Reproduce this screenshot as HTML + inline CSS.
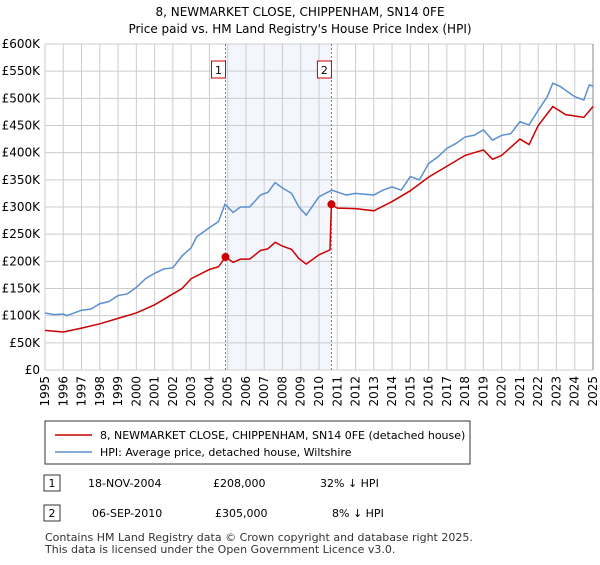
<!DOCTYPE html>
<html><head><meta charset="utf-8"><style>
body{margin:0;background:#fff;font-family:"Liberation Sans","DejaVu Sans",sans-serif;}
svg text{font-family:"DejaVu Sans","Liberation Sans",sans-serif;}
</style></head><body>
<svg id="c" width="600" height="560" xmlns="http://www.w3.org/2000/svg">
<text x="300" y="16" text-anchor="middle" font-size="12">8, NEWMARKET CLOSE, CHIPPENHAM, SN14 0FE</text>
<text x="300" y="33" text-anchor="middle" font-size="12">Price paid vs. HM Land Registry's House Price Index (HPI)</text>
<g id="grid"></g><g id="axes"></g><g id="series"></g>
<g>
<rect x="45" y="421" width="425" height="43" fill="#fff" stroke="#333"/>
<line x1="55" y1="435" x2="92" y2="435" stroke="#cc0000" stroke-width="1.5"/>
<text x="100" y="439" font-size="11">8, NEWMARKET CLOSE, CHIPPENHAM, SN14 0FE (detached house)</text>
<line x1="55" y1="452" x2="92" y2="452" stroke="#5b8fd0" stroke-width="1.5"/>
<text x="100" y="456" font-size="11">HPI: Average price, detached house, Wiltshire</text>
</g>
<g>
<rect x="44" y="475" width="16" height="16" fill="#fff" stroke="#333"/>
<text x="52" y="487" text-anchor="middle" font-size="11">1</text>
<text x="88" y="487" font-size="11">18-NOV-2004</text>
<text x="213" y="487" font-size="11">£208,000</text>
<text x="320" y="487" font-size="11">32% ↓ HPI</text>
<rect x="44" y="505" width="16" height="16" fill="#fff" stroke="#333"/>
<text x="52" y="517" text-anchor="middle" font-size="11">2</text>
<text x="92" y="517" font-size="11">06-SEP-2010</text>
<text x="215" y="517" font-size="11">£305,000</text>
<text x="332" y="517" font-size="11">8% ↓ HPI</text>
</g>
<text x="45" y="541" font-size="11" fill="#333">Contains HM Land Registry data © Crown copyright and database right 2025.</text>
<text x="45" y="553" font-size="11" fill="#333">This data is licensed under the Open Government Licence v3.0.</text>
</svg>
<script>
const yTicks=[0,50,100,150,200,250,300,350,400,450,500,550,600];
const yearLabels=[1995,1996,1997,1998,1999,2000,2001,2002,2003,2004,2005,2006,2007,2008,2009,2010,2011,2012,2013,2014,2015,2016,2017,2018,2019,2020,2021,2022,2023,2024,2025];
const hpiDates=[1995,1995.5,1996,1996.2,1997,1997.5,1998,1998.5,1999,1999.5,2000,2000.5,2001,2001.5,2002,2002.5,2003,2003.3,2004,2004.5,2004.85,2005.3,2005.7,2006.2,2006.8,2007.2,2007.6,2008,2008.5,2008.9,2009.3,2010,2010.7,2011.5,2012,2013,2013.5,2014,2014.5,2015,2015.5,2016,2016.5,2017,2017.5,2018,2018.5,2019,2019.5,2020,2020.5,2021,2021.5,2022,2022.5,2022.8,2023.2,2023.7,2024,2024.5,2024.8,2025];
const hpiVals=[105,102,103,100,110,112,122,126,137,140,152,168,178,186,188,210,225,245,262,273,305,290,300,300,322,327,345,335,325,300,285,319,331,322,325,322,331,337,331,356,350,380,392,408,417,429,432,442,423,432,435,457,451,478,503,528,522,510,503,497,525,522];
const paidDates=[1995,1996,1997,1998,1999,2000,2001,2002,2002.5,2003,2004,2004.5,2004.88,2005.3,2005.7,2006.2,2006.8,2007.2,2007.6,2008,2008.5,2008.9,2009.3,2010,2010.6,2010.68,2011,2012,2013,2014,2015,2016,2017,2018,2019,2019.5,2020,2021,2021.5,2022,2022.8,2023.5,2024.5,2025];
const paidVals=[73,70,77,85,95,105,120,140,150,168,185,190,208,198,204,204,220,223,235,228,222,205,195,212,221,305,298,297,293,310,330,355,375,395,405,388,395,425,415,450,485,470,465,485];
const sales=[{d:2004.88,v:208,n:"1"},{d:2010.68,v:305,n:"2"}];
const L=45,R=593,T=44,B=370;
const x=d=>L+(d-1995)/30*(R-L);
const y=v=>B-v/600*(B-T);
const NS="http://www.w3.org/2000/svg";
function mk(t,a,p){const e=document.createElementNS(NS,t);for(const k in a)e.setAttribute(k,a[k]);p.appendChild(e);return e;}
const g=document.getElementById('grid'),ax=document.getElementById('axes'),s=document.getElementById('series');
const sh=mk('rect',{x:x(sales[0].d),y:T,width:x(sales[1].d)-x(sales[0].d),height:B-T,fill:'#f3f6fd'},g);


yTicks.forEach(v=>{
 const l=mk('line',{x1:L,x2:R,y1:y(v),y2:y(v),stroke:'#ccc'},g);
 
 
 const t=mk('text',{x:40,y:y(v)+4,'text-anchor':'end','font-size':12},ax);
 t.textContent=v===0?'£0':'£'+v+'K';
 
 
});
yearLabels.forEach(yr=>{
 const l=mk('line',{x1:x(yr),x2:x(yr),y1:T,y2:B,stroke:'#ccc'},g);
 
 
 const t=mk('text',{x:0,y:0,'text-anchor':'end','font-size':12,transform:`translate(${x(yr)+4},${B+6}) rotate(-90)`},ax);
 t.textContent=yr;
 
 
});
sales.forEach(sa=>{
 const l=mk('line',{x1:x(sa.d),x2:x(sa.d),y1:T,y2:B,stroke:'#e05555','stroke-dasharray':'2,2'},g);
 
 
 const r=mk('rect',{x:x(sa.d)-14,y:61,width:14,height:17,fill:'#fff',stroke:'#cc0000'},s);
 
 
 const t=mk('text',{x:x(sa.d)-7,y:74,'text-anchor':'middle','font-size':11},s);
 t.textContent=sa.n;
 
 
});
const hp=mk('polyline',{points:hpiDates.map((d,i)=>x(d)+','+y(hpiVals[i])).join(' '),fill:'none',stroke:'#5b8fd0','stroke-width':1.5},s);


const pp=mk('polyline',{points:paidDates.map((d,i)=>x(d)+','+y(paidVals[i])).join(' '),fill:'none',stroke:'#cc0000','stroke-width':1.5},s);


sales.forEach(sa=>{
 const c=mk('circle',{cx:x(sa.d),cy:y(sa.v),r:4,fill:'#cc0000'},s);
 
 
});
mk('line',{x1:R,x2:R,y1:T,y2:B,stroke:'#888'},ax);
</script>
</body></html>
